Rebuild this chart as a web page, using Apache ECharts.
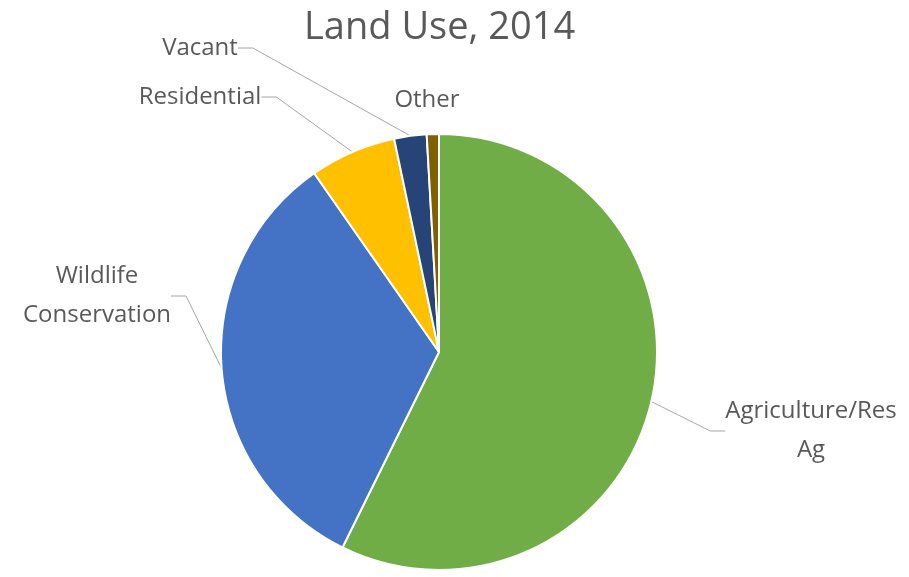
<!DOCTYPE html>
<html>
<head>
<meta charset="utf-8">
<script src="https://cdn.jsdelivr.net/npm/echarts@6/dist/echarts.min.js"></script>
<style>
    html, body { margin: 0; padding: 0; background: #fff; }
    #pieChart { width: 909px; height: 577px; }
</style>
</head>
<body>
<div id="pieChart"></div>
<script>
// Land use shares (percent), clockwise from 12 o'clock
var categories = ['Agriculture/Res\nAg', 'Wildlife\nConservation', 'Residential', 'Vacant', 'Other'];
var shares = [57.3, 33.0, 6.4, 2.4, 0.9];
var colors = ['#70AD47', '#4472C4', '#FFC000', '#264478', '#7F6000'];

// Where each label sits (centre of the text block)
var labelSpots = [[811, 431], [97, 296], [200, 97], [200, 48], [427, 100]];

var chart = echarts.init(document.querySelector('#pieChart'));

chart.setOption({
    animation: false,
    title: {
        text: 'Land Use, 2014',
        left: 299,
        top: 4,
        textStyle: {
            fontFamily: 'Open Sans',
            fontSize: 38,
            fontWeight: 'normal',
            color: '#595959'
        }
    },
    series: [
        {
            type: 'pie',
            center: [439, 352],
            radius: 218,
            startAngle: 90,
            clockwise: true,
            data: categories.map(function(name, i) {
                return {
                    name: name,
                    value: shares[i],
                    itemStyle: { color: colors[i] },
                    labelLine: { show: name !== 'Other' }
                };
            }),
            itemStyle: {
                borderColor: '#ffffff',
                borderWidth: 2
            },
            label: {
                show: true,
                formatter: '{b}',
                fontFamily: 'Open Sans',
                fontSize: 24,
                lineHeight: 39,
                color: '#595959',
                align: 'center'
            },
            labelLine: {
                show: true,
                length: 30,
                length2: 15,
                lineStyle: { color: '#a6a6a6', width: 1 }
            },
            labelLayout: function(params) {
                var p = labelSpots[params.dataIndex];
                return {
                    x: p[0],
                    y: p[1],
                    align: 'center',
                    verticalAlign: 'middle'
                };
            }
        }
    ]
});
</script>
</body>
</html>
